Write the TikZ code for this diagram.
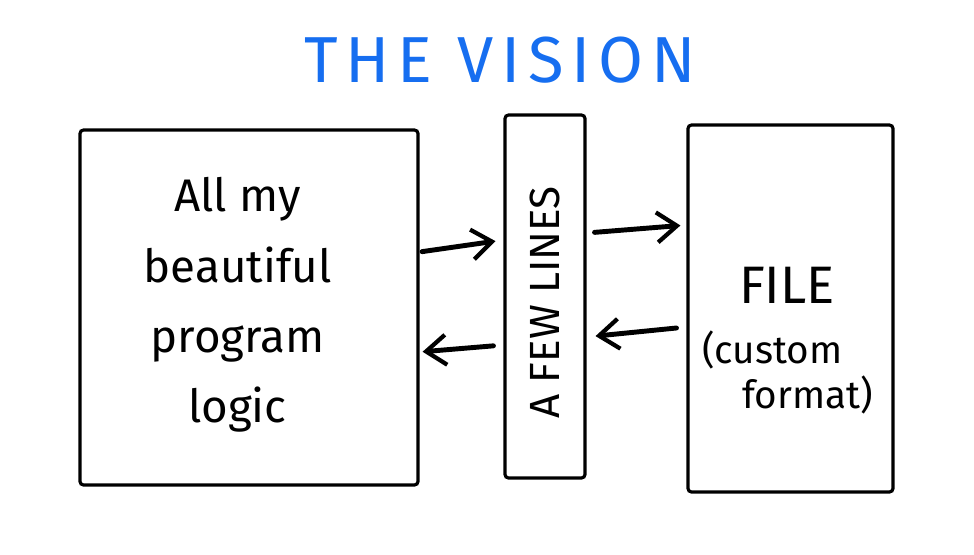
\documentclass[tikz,border=0pt]{standalone}
\usepackage{fontspec}
\setmainfont{Fira Sans}
\usepackage{tikz}
\usetikzlibrary{positioning, arrows.meta}
\definecolor{visionblue}{RGB}{22,110,240}
\tikzset{
    box/.style={draw, line width=1.8pt, rounded corners=2pt, inner sep=0pt},
    arr/.style={line width=2.8pt, line cap=round, -{Straight Barb[length=4mm, width=6mm, line width=2.4pt]}},
}

\begin{document}
\begin{tikzpicture}
    \useasboundingbox (0, 0) rectangle (19.48, -11.08);

    \node (title) at (10.0, -1.2) {\fontsize{37}{40}\selectfont\color{visionblue}\addfontfeatures{LetterSpace=12}THE VISION};

    \node [box, minimum width=6.76cm, minimum height=7.1cm] (logic) at (4.98, -6.15) {};
    \node [box, minimum width=1.6cm, minimum height=7.26cm] (lines) at (10.9, -5.93) {};
    \node [box, minimum width=4.1cm, minimum height=7.34cm] (file) at (15.81, -6.17) {};

    \node [align=center, font=\fontsize{26}{40}\selectfont] (logictext) at (4.75, -6.1) {All my\\beautiful\\program\\logic};
    \node [rotate=90, font=\fontsize{24}{28}\selectfont] (linestext) at (10.9, -6.05) {A FEW LINES};
    \node [font=\fontsize{30}{34}\selectfont] (filetext) at (15.74, -5.7) {FILE};
    \node [align=left, font=\fontsize{22}{26}\selectfont] (fmttext) at (15.75, -7.45) {(custom\\\hspace{0.8cm}format)};

    \draw [arr, shorten <=0.05cm, shorten >=0.16cm] ([yshift=1.11cm]logic.east) -- ([yshift=1.13cm]lines.west);
    \draw [arr, shorten <=0.16cm, shorten >=0.12cm] ([yshift=1.27cm]lines.east) -- ([yshift=1.67cm]file.west);
    \draw [arr, shorten <=0.2cm, shorten >=0.18cm] ([yshift=-0.37cm]file.west) -- ([yshift=-0.81cm]lines.east);
    \draw [arr, shorten <=0.2cm, shorten >=0.06cm] ([yshift=-0.97cm]lines.west) -- ([yshift=-0.89cm]logic.east);
\end{tikzpicture}
\end{document}
